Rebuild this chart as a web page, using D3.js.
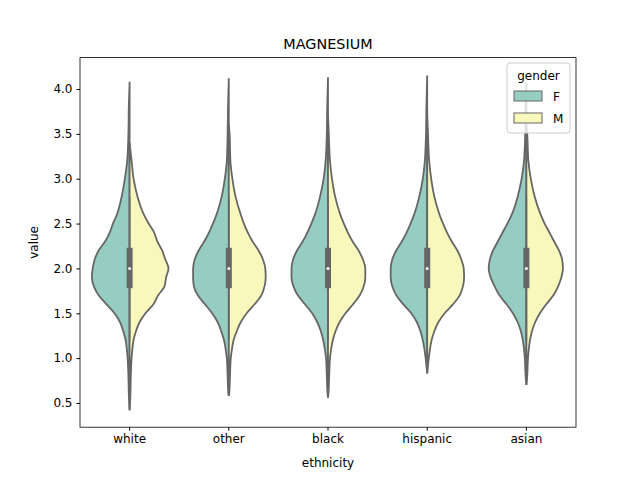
<!DOCTYPE html>
<html><head><meta charset="utf-8">
<script src="https://cdn.jsdelivr.net/npm/d3@7"></script>
<style>body{margin:0;background:#fff}text{font-family:"DejaVu Sans",sans-serif}</style>
</head><body>
<script>
var categories = ["white", "other", "black", "hispanic", "asian"];
var genders = ["F", "M"];
var yTicks = [0.5, 1.0, 1.5, 2.0, 2.5, 3.0, 3.5, 4.0];
var levels = [0.4,0.6,0.8,1.0,1.1,1.2,1.3,1.4,1.5,1.6,1.7,1.8,1.9,2.0,2.1,2.2,2.3,2.4,2.5,2.6,2.8,3.0,3.2,3.5,3.8,4.2];
// min / max of each violin, [F, M]
var mins = [[0.42, 0.42], [0.58, 0.58], [0.56, 0.56], [0.83, 0.83], [0.7, 0.7]];
var maxs = [[4.08, 3.4], [4.12, 3.6], [4.13, 3.7], [4.15, 3.7], [4.07, 3.6]];
// relative half widths on levels
var widthsF = [
  [0.01,0.02,0.03,0.05,0.07,0.1,0.16,0.24,0.38,0.58,0.78,0.9,0.95,0.93,0.88,0.78,0.62,0.5,0.42,0.32,0.2,0.12,0.06,0.03,0.02,0.01],
  [0,0.01,0.03,0.05,0.08,0.12,0.19,0.28,0.42,0.6,0.78,0.88,0.9,0.9,0.86,0.76,0.62,0.5,0.4,0.31,0.18,0.1,0.05,0.03,0.02,0.01],
  [0,0.01,0.03,0.05,0.08,0.12,0.18,0.27,0.4,0.58,0.76,0.87,0.92,0.92,0.88,0.78,0.64,0.52,0.42,0.33,0.2,0.11,0.06,0.03,0.02,0.01],
  [0,0,0.01,0.04,0.07,0.11,0.17,0.26,0.4,0.6,0.78,0.88,0.92,0.92,0.88,0.78,0.64,0.52,0.42,0.33,0.2,0.11,0.06,0.03,0.02,0.01],
  [0,0,0.02,0.04,0.06,0.09,0.14,0.22,0.34,0.5,0.68,0.8,0.9,0.95,0.92,0.84,0.72,0.6,0.48,0.37,0.22,0.12,0.06,0.03,0.02,0.01]
];
var widthsM = [
  [0.01,0.02,0.03,0.05,0.07,0.1,0.16,0.25,0.4,0.6,0.72,0.88,0.92,0.98,0.9,0.82,0.7,0.62,0.48,0.36,0.2,0.1,0.05,0.02,0,0],
  [0,0.01,0.03,0.05,0.08,0.12,0.2,0.3,0.45,0.65,0.82,0.9,0.93,0.92,0.86,0.75,0.6,0.48,0.38,0.3,0.17,0.09,0.04,0.02,0,0],
  [0,0.01,0.03,0.05,0.08,0.12,0.19,0.29,0.44,0.63,0.8,0.9,0.94,0.94,0.88,0.77,0.62,0.5,0.4,0.31,0.18,0.1,0.05,0.02,0,0],
  [0,0,0.01,0.04,0.07,0.11,0.18,0.28,0.44,0.65,0.82,0.9,0.93,0.92,0.86,0.76,0.62,0.5,0.4,0.31,0.18,0.1,0.05,0.02,0,0],
  [0,0,0.02,0.04,0.06,0.09,0.14,0.22,0.34,0.5,0.68,0.8,0.88,0.92,0.9,0.82,0.7,0.58,0.46,0.36,0.21,0.11,0.05,0.02,0,0]
];
var quartiles = [1.78, 2.0, 2.23];
var whisk = [[1.2, 2.8], [1.2, 2.8], [1.2, 2.8], [1.2, 2.8], [1.2, 2.8]];
var colors = {F: "#96cdc2", M: "#f8f8bc"};

var W = 640, H = 480, m = {l: 80, r: 64, t: 57.6, b: 52.8};
var svg = d3.select("body").append("svg").attr("width", W).attr("height", H);
var x = d3.scaleBand().domain(categories).range([m.l, W - m.r]);
var y = d3.scaleLinear().domain([0.23, 4.35]).range([H - m.b, m.t]);
var wScale = d3.scaleLinear().domain([0, 1]).range([0, x.bandwidth() * 0.4]);

categories.forEach(function(c, i) {
  var cx = x(c) + x.bandwidth() / 2;
  genders.forEach(function(g, gi) {
    var ws = gi == 0 ? widthsF[i] : widthsM[i];
    var lo = mins[i][gi], hi = maxs[i][gi];
    var pts = [[lo, 0]];
    levels.forEach(function(v, k) { if (v > lo && v < hi) pts.push([v, ws[k]]); });
    pts.push([hi, 0]);
    var sign = gi == 0 ? -1 : 1;
    var line = d3.line().curve(d3.curveMonotoneY)
      .x(function(d) { return cx + sign * wScale(d[1]); })
      .y(function(d) { return y(d[0]); });
    svg.append("path").attr("d", line(pts) + "Z")
      .attr("fill", colors[g]).attr("stroke", "#666").attr("stroke-width", 1.8);
  });
  svg.append("line").attr("x1", cx).attr("x2", cx)
    .attr("y1", y(whisk[i][0])).attr("y2", y(whisk[i][1]))
    .attr("stroke", "#666").attr("stroke-width", 1.5);
  svg.append("rect").attr("x", cx - 3).attr("width", 6)
    .attr("y", y(quartiles[2])).attr("height", y(quartiles[0]) - y(quartiles[2]))
    .attr("fill", "#666");
  svg.append("circle").attr("cx", cx).attr("cy", y(quartiles[1])).attr("r", 1.5).attr("fill", "#fff");
});

var ax = svg.append("g").attr("transform", "translate(0," + (H - m.b) + ")")
  .call(d3.axisBottom(x).tickSizeOuter(0).tickSize(3.5).tickPadding(4));
var ay = svg.append("g").attr("transform", "translate(" + m.l + ",0)")
  .call(d3.axisLeft(y).tickValues(yTicks).tickFormat(d3.format(".1f")).tickSize(3.5).tickPadding(4));
[ax, ay].forEach(function(a) {
  a.selectAll("text").attr("font-size", 12).attr("fill", "#000");
  a.select(".domain").remove();
});
svg.append("rect").attr("x", m.l).attr("y", m.t).attr("width", W - m.l - m.r).attr("height", H - m.t - m.b)
  .attr("fill", "none").attr("stroke", "#000").attr("stroke-width", 0.8);

svg.append("text").attr("x", (m.l + W - m.r) / 2).attr("y", 49).attr("text-anchor", "middle").attr("font-size", 14.4).text("MAGNESIUM");
svg.append("text").attr("x", (m.l + W - m.r) / 2).attr("y", 467).attr("text-anchor", "middle").attr("font-size", 12).text("ethnicity");
svg.append("text").attr("transform", "translate(38," + ((m.t + H - m.b) / 2) + ") rotate(-90)").attr("text-anchor", "middle").attr("font-size", 12).text("value");

var lg = svg.append("g").attr("transform", "translate(507,63)");
lg.append("rect").attr("width", 63).attr("height", 70).attr("rx", 3).attr("fill", "#fff").attr("fill-opacity", 0.8).attr("stroke", "#ccc");
lg.append("text").attr("x", 31.5).attr("y", 17).attr("text-anchor", "middle").attr("font-size", 12).text("gender");
genders.forEach(function(g, i) {
  lg.append("rect").attr("x", 7).attr("y", 28 + i * 22).attr("width", 28).attr("height", 10)
    .attr("fill", colors[g]).attr("stroke", "#666").attr("stroke-width", 1);
  lg.append("text").attr("x", 46).attr("y", 38 + i * 22).attr("font-size", 12).text(g);
});
</script>
</body></html>
